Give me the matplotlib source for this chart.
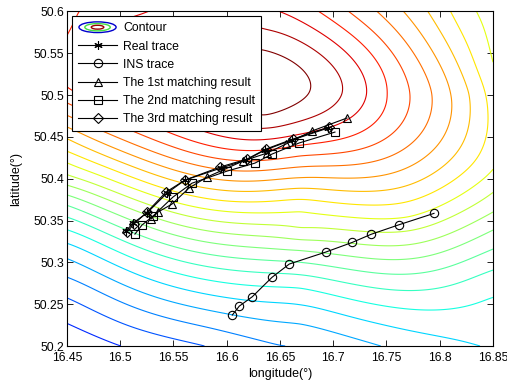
import numpy as np
import matplotlib
matplotlib.use('Agg')
import matplotlib.pyplot as plt
from matplotlib.colors import Normalize
from matplotlib.lines import Line2D
from matplotlib.patches import Ellipse
from matplotlib.legend_handler import HandlerBase

plt.rcParams['font.family'] = ['Liberation Sans', 'DejaVu Sans']

# contour crossings: (lon, lat, level index)
cont_lon = [16.45] * 22 + [16.5, 16.58, 16.65, 16.745, 16.845, 16.85] \
    + [16.85] * 10 \
    + [16.4575, 16.52, 16.58, 16.65, 16.686, 16.714, 16.741, 16.766, 16.789, 16.810, 16.833] \
    + [16.678, 16.709, 16.732, 16.750, 16.772, 16.793, 16.810, 16.828] \
    + [16.636, 16.636, 16.636, 16.60, 16.636, 16.636, 16.54] \
    + [16.669] * 14 + [16.77]
cont_lat = [50.227, 50.258, 50.282, 50.305, 50.323, 50.339, 50.354, 50.369, 50.381, 50.392,
            50.404, 50.420, 50.432, 50.449, 50.462, 50.476, 50.491, 50.507, 50.568, 50.54,
            50.6, 50.2] \
    + [50.2] * 6 \
    + [50.26, 50.291, 50.316, 50.339, 50.360, 50.384, 50.410, 50.48, 50.534, 50.6] \
    + [50.6] * 11 \
    + [50.502] * 8 \
    + [50.474, 50.461, 50.447, 50.52, 50.554, 50.578, 50.53] \
    + [50.428, 50.414, 50.401, 50.389, 50.375, 50.363, 50.339, 50.327, 50.315, 50.300,
       50.285, 50.270, 50.249, 50.227] + [50.354]
cont_level = [1, 2, 3, 4, 5, 6, 7, 8, 9, 10, 11, 12, 13, 14, 15, 16, 17, 18, 18, 18.5, 17.4, 0.2] \
    + [1, 2, 3, 4, 5, 5.2] \
    + [6, 7, 8, 9, 10, 11, 12, 12.7, 12, 11.6] \
    + [18, 18.9, 19.4, 19, 18, 17, 16, 15, 14, 13, 12] \
    + [21, 20, 19, 18, 17, 16, 15, 14] \
    + [21, 20, 19, 21.6, 21, 20, 20.4] \
    + [17, 16, 15, 14, 13, 12, 11, 10, 9, 8, 7, 6, 5, 4] + [12]

# traces
real_lon = [16.5054, 16.5120, 16.5251, 16.5439, 16.5608, 16.5946, 16.6181, 16.6359, 16.6613, 16.6951]
real_lat = [50.3374, 50.3470, 50.3590, 50.3829, 50.3984, 50.4128, 50.4223, 50.4343, 50.4463, 50.4606]
ins_lon = [16.6052, 16.6118, 16.6240, 16.6425, 16.6587, 16.6929, 16.7179, 16.7354, 16.7613, 16.7946]
ins_lat = [50.2370, 50.2477, 50.2589, 50.2821, 50.2980, 50.3123, 50.3239, 50.3335, 50.3448, 50.3586]
m1_lon = [16.5289, 16.5354, 16.5486, 16.5646, 16.5815, 16.6153, 16.6378, 16.6556, 16.6800, 16.7129]
m1_lat = [50.3518, 50.3601, 50.3697, 50.3889, 50.4020, 50.4212, 50.4307, 50.4415, 50.4571, 50.4726]
m2_lon = [16.5138, 16.5204, 16.5308, 16.5495, 16.5674, 16.6002, 16.6265, 16.6425, 16.6678, 16.7016]
m2_lat = [50.3338, 50.3446, 50.3554, 50.3781, 50.3947, 50.4091, 50.4187, 50.4295, 50.4427, 50.4558]
m3_lon = [16.5063, 16.5129, 16.5251, 16.5430, 16.5608, 16.5937, 16.6190, 16.6368, 16.6622, 16.6960]
m3_lat = [50.3362, 50.3458, 50.3601, 50.3841, 50.3984, 50.4140, 50.4235, 50.4355, 50.4475, 50.4618]

xticks = [16.45, 16.5, 16.55, 16.6, 16.65, 16.7, 16.75, 16.8, 16.85]
yticks = [50.2, 50.25, 50.3, 50.35, 50.4, 50.45, 50.5, 50.55, 50.6]


# smooth thin-plate surface through the read-off crossings
def to_unit(lon, lat):
    return (np.asarray(lon) - 16.45) / 0.4 * 1.27, (np.asarray(lat) - 50.2) / 0.4


def kern(r):
    with np.errstate(divide='ignore', invalid='ignore'):
        k = r ** 2 * np.log(r)
    return np.nan_to_num(k)


px, py = to_unit(cont_lon, cont_lat)
vals = np.array(cont_level, dtype=float)
n = len(px)
D = np.hypot(px[:, None] - px[None, :], py[:, None] - py[None, :])
P = np.column_stack([np.ones(n), px, py])
A = np.zeros((n + 3, n + 3))
A[:n, :n] = kern(D) + 0.003 * np.eye(n)
A[:n, n:] = P
A[n:, :n] = P.T
sol = np.linalg.solve(A, np.concatenate([vals, np.zeros(3)]))
w, a = sol[:n], sol[n:]

glon, glat = np.meshgrid(np.linspace(16.45, 16.85, 241), np.linspace(50.2, 50.6, 241))
gx, gy = to_unit(glon, glat)
Dg = np.hypot(gx.ravel()[:, None] - px[None, :], gy.ravel()[:, None] - py[None, :])
Z = (kern(Dg) @ w + a[0] + a[1] * gx.ravel() + a[2] * gy.ravel()).reshape(gx.shape)

fig = plt.figure(figsize=(5.07, 3.83), dpi=100)
ax = fig.add_axes([0.1321, 0.0966, 0.8403, 0.8734])

ax.contour(glon, glat, Z, levels=np.arange(1, 22), cmap='jet', norm=Normalize(-3, 21),
           linewidths=0.8)

kw = dict(color='k', lw=0.8, markersize=6, markerfacecolor='none', markeredgewidth=0.8)
h_real, = ax.plot(real_lon, real_lat, marker=(6, 2, 0), **kw)
h_ins, = ax.plot(ins_lon, ins_lat, marker='o', **kw)
h_m1, = ax.plot(m1_lon, m1_lat, marker='^', **kw)
h_m2, = ax.plot(m2_lon, m2_lat, marker='s', **kw)
h_m3, = ax.plot(m3_lon, m3_lat, marker='D', **dict(kw, markersize=5))

ax.set_xlim(16.45, 16.85)
ax.set_ylim(50.2, 50.6)
ax.set_xticks(xticks)
ax.set_xticklabels(['%g' % t for t in xticks])
ax.set_yticks(yticks)
ax.set_yticklabels(['%g' % t for t in yticks])
ax.tick_params(direction='in', top=True, right=True, length=4, width=0.6, labelsize=8.7)
ax.tick_params(axis='x', pad=4)
ax.tick_params(axis='y', pad=2)
for s in ax.spines.values():
    s.set_linewidth(0.8)
ax.set_xlabel('longitude(°)', fontsize=9, labelpad=3)
ax.set_ylabel('latitude(°)', fontsize=9, labelpad=8)


class ContourHandler(HandlerBase):
    def create_artists(self, legend, orig_handle, xdescent, ydescent, width, height, fontsize, trans):
        cx = width / 2 - xdescent
        cy = height / 2 - ydescent
        arts = []
        for fw, fh, c in [(0.95, 1.25, '#0000cc'), (0.65, 0.85, '#44dd44'), (0.32, 0.45, '#990000')]:
            arts.append(Ellipse((cx, cy), width * fw, height * fh, fill=False, edgecolor=c,
                                lw=1.0, transform=trans))
        return arts


contour_proxy = Line2D([], [])
leg = ax.legend([contour_proxy, h_real, h_ins, h_m1, h_m2, h_m3],
                ['Contour', 'Real trace', 'INS trace', 'The 1st matching result',
                 'The 2nd matching result', 'The 3rd matching result'],
                handler_map={contour_proxy: ContourHandler()},
                loc='upper left', fontsize=8.8, handlelength=3.2, handletextpad=0.5,
                labelspacing=0.5, borderpad=0.5, borderaxespad=0.4,
                fancybox=False, framealpha=1, edgecolor='k')
leg.get_frame().set_linewidth(0.8)

fig.savefig('out.png', dpi=100)
